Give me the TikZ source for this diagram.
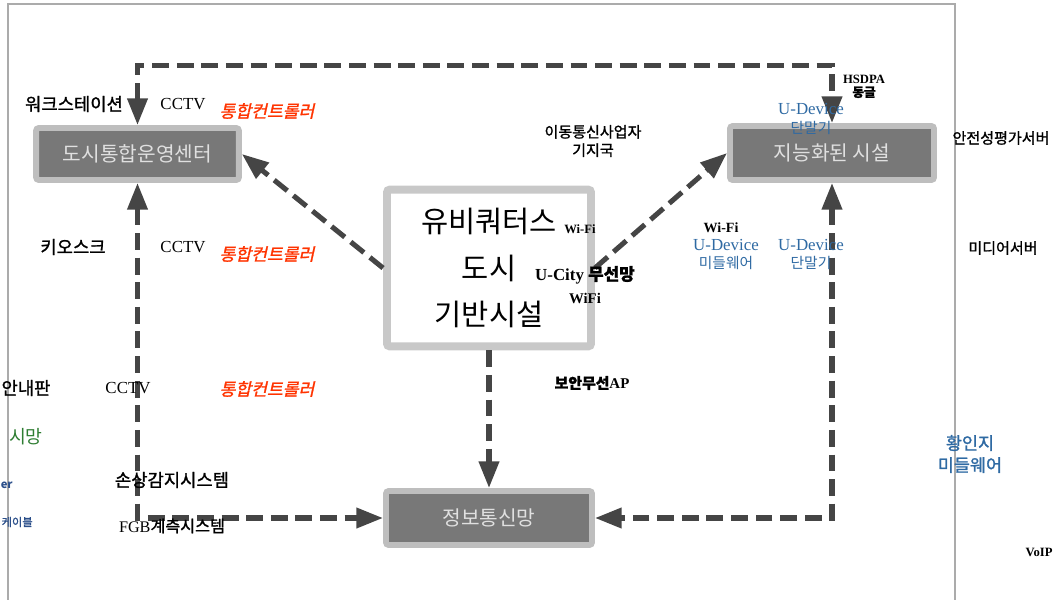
\documentclass[tikz,border=0pt]{standalone}
\usepackage{fontspec}
\setmainfont{Liberation Serif}
\newfontfamily\kr{Noto Sans CJK KR}
\newfontfamily\krb[FakeBold=1.3]{Noto Sans CJK KR}
\newfontfamily\kri[FakeSlant=0.22,FakeBold=1.5]{Noto Sans CJK KR}
\usetikzlibrary{arrows.meta}
\definecolor{boxfill}{HTML}{787878}
\definecolor{boxedge}{HTML}{BEBEBE}
\definecolor{linegray}{HTML}{454545}
\definecolor{framegray}{HTML}{ABABAB}
\definecolor{ctrlred}{HTML}{FF3300}
\definecolor{devblue}{HTML}{2F6AA3}
\definecolor{netgreen}{HTML}{2E7D32}
\definecolor{navy}{HTML}{2B4F8A}
\begin{document}
\begin{tikzpicture}[x=0.025cm, y=-0.025cm,
  sysbox/.style={draw=boxedge, fill=boxfill, line width=4.2pt, rounded corners=2pt,
    text=white!88!black, font=\kr\fontsize{14.4}{16}\selectfont, inner sep=0pt},
  link/.style={draw=linegray, line width=3.6pt, dash pattern=on 12pt off 5.5pt,
    arrows={-Triangle[length=19pt, width=14pt]}},
  twoway/.style={link, arrows={Triangle[length=19pt, width=14pt]-Triangle[length=19pt, width=14pt]}},
  lab/.style={inner sep=0pt, align=center}]
  \useasboundingbox (0,0) rectangle (1055,600);
  % frame
  \draw[framegray, line width=0.9pt] (8,600) -- (8,4) -- (955,4) -- (955,600);
  % boxes
  \node[sysbox, minimum width=5.07cm, minimum height=1.3cm] (ops) at (137.5,154) {도시통합운영센터};
  \node[sysbox, minimum width=5.1cm, minimum height=1.35cm] (fac) at (832,153) {지능화된 시설};
  \node[sysbox, minimum width=5.15cm, minimum height=1.35cm] (net) at (489,518) {정보통신망};
  \node[draw=boxedge!85!white, fill=white, line width=5.6pt, rounded corners=2pt, inner sep=0pt,
    minimum width=5.1cm, minimum height=3.92cm, align=center,
    font=\kr\fontsize{21}{33}\selectfont] (ubi) at (489,268) {유비쿼터스\\도시\\기반시설};
  % connectors
  \draw[twoway] (ops.north) -- ++(0,-60) -| (fac.north);
  \draw[twoway] (ops.south) |- (net.west);
  \draw[twoway] (fac.south) |- (net.east);
  \draw[link] (ubi.west) -- (ops.east);
  \draw[link] (ubi.east) -- (fac.west);
  \draw[link] (ubi.south) -- (net.north);
  % labels
  \foreach \x/\y/\txt [count=\i] in {74/104/워크스테이션, 73/247/키오스크, 26/388/안내판, 172/480/손상감지시스템}
    \node[lab, font=\krb\fontsize{12.6}{14}\selectfont] (dev\i) at (\x,\y) {\txt};
  \node[lab, font=\fontsize{11.5}{13}\selectfont] (fgb) at (172,526) {FGB{\krb 계측시스템}};
  \foreach \x/\y [count=\i] in {183/104, 183/247, 128/388}
    \node[lab, font=\fontsize{12}{13}\selectfont] (cam\i) at (\x,\y) {CCTV};
  \foreach \y [count=\i] in {111, 254, 389}
    \node[lab, text=ctrlred, font=\kri\fontsize{12.2}{14}\selectfont] (ctrl\i) at (267,\y) {통합컨트롤러};
  \foreach \x/\y/\txt [count=\i] in {593/141/이동통신사업자\\기지국, 1001/138/안전성평가서버, 1003/248/미디어서버}
    \node[lab, font=\krb\fontsize{10.7}{13}\selectfont] (srv\i) at (\x,\y) {\txt};
  \node[lab, font=\fontsize{10.6}{12}\selectfont\bfseries] (ap) at (592,383) {{\krb 보안무선}AP};
  \node[lab, font=\fontsize{9}{9.5}\selectfont\bfseries] (hsdpa) at (864,86.5) {HSDPA\\{\krb 동글}};
  \node[lab, font=\fontsize{9}{10}\selectfont\bfseries] (wifi1) at (580,229) {Wi-Fi};
  \node[lab, font=\fontsize{12}{14}\selectfont\bfseries] (ucity) at (585,275) {U-City {\krb 무선망}};
  \node[lab, font=\fontsize{10.5}{12}\selectfont\bfseries] (wifi2) at (585,298) {WiFi};
  \node[lab, font=\fontsize{10}{12}\selectfont\bfseries] (wifi3) at (721,228) {Wi-Fi};
  \foreach \x/\y/\txt [count=\i] in {811/119/단말기, 726/254.5/미들웨어, 811/254.5/단말기}
    \node[lab, text=devblue, font=\fontsize{12}{13.2}\selectfont] (ud\i) at (\x,\y) {U-Device\\{\kr\fontsize{10.5}{12}\selectfont \txt}};
  \node[lab, text=devblue, font=\krb\fontsize{12.4}{15.6}\selectfont] (mw) at (970,454) {황인지\\미들웨어};
  \node[lab, font=\fontsize{9}{10}\selectfont\bfseries] (voip) at (1039,552) {VoIP};
  \node[lab, anchor=east, text=netgreen, font=\kr\fontsize{13}{15}\selectfont] (cctvnet) at (43,437) {시망};
  \node[lab, anchor=east, text=navy, font=\kr\fontsize{8}{10}\selectfont\bfseries] (srvx) at (13,485) {er};
  \node[lab, anchor=east, text=navy, font=\krb\fontsize{8}{10}\selectfont] (cable) at (33,522) {케이블};
\end{tikzpicture}
\end{document}
